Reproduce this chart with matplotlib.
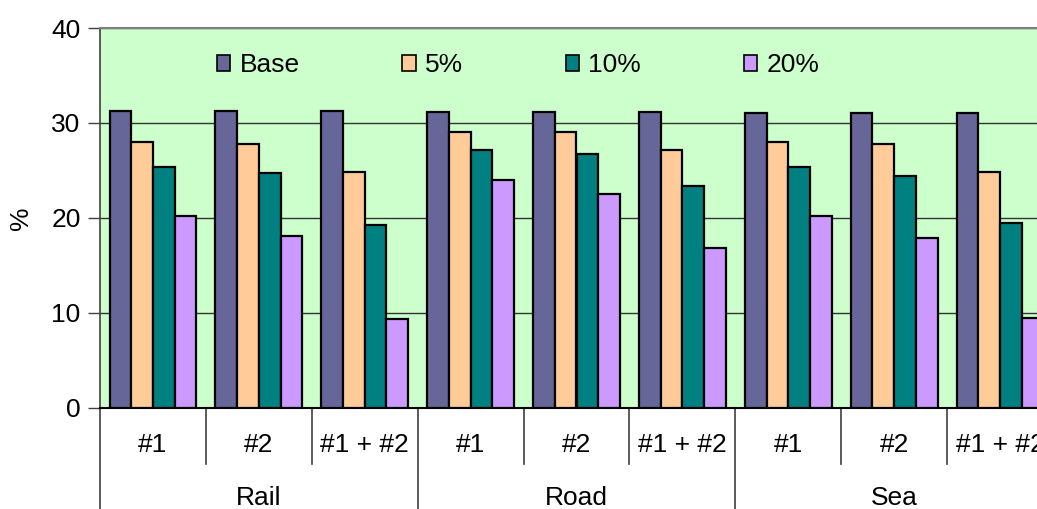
import matplotlib
matplotlib.use("Agg")
import matplotlib.pyplot as plt
import numpy as np

plt.rcParams['font.family'] = ['Liberation Sans', 'DejaVu Sans']

# Data
modes = ["Rail", "Road", "Sea"]
options = ["#1", "#2", "#1 + #2"]
series_names = ["Base", "5%", "10%", "20%"]

base = [31.2, 31.2, 31.2, 31.1, 31.1, 31.1, 31.0, 31.0, 31.0]
pct5 = [28.0, 27.8, 24.8, 29.0, 29.0, 27.1, 28.0, 27.8, 24.8]
pct10 = [25.3, 24.7, 19.2, 27.1, 26.7, 23.3, 25.3, 24.4, 19.4]
pct20 = [20.2, 18.1, 9.3, 24.0, 22.5, 16.8, 20.2, 17.9, 9.4]

colors = ["#666699", "#FFCC99", "#008080", "#CC99FF"]

FS = 19
W, H = 1037, 509
fig = plt.figure(figsize=(W / 100, H / 100), dpi=100)
left, right, bottom, top = 100, 1053, 407.5, 28
axw = right - left
axh = bottom - top
ax = fig.add_axes([left / W, (H - bottom) / H, axw / W, axh / H])
ax.set_facecolor("#CCFFCC")

n_groups = len(modes) * len(options)
x = np.arange(n_groups)
bw = 0.205
offsets = (np.arange(4) - 1.5) * bw
for vals, name, col, off in zip([base, pct5, pct10, pct20], series_names, colors, offsets):
    ax.bar(x + off, vals, bw, color=col, edgecolor="black", linewidth=1.6,
           label=name, zorder=3)

ax.set_xlim(-0.5, n_groups - 0.5)
ax.set_ylim(0, 40)
ax.set_yticks([0, 10, 20, 30, 40])
ax.yaxis.grid(True, color="#333333", linewidth=1.0, zorder=1)
ax.tick_params(axis="y", labelsize=FS, length=9, width=1, color="#404040",
               direction="out", pad=5)
ax.set_xticks([])
ax.set_ylabel("%", fontsize=FS, va="center")
ax.yaxis.set_label_coords(-79 / axw, 0.5)

ax.spines["right"].set_visible(False)
ax.spines["top"].set_color("#808080")
ax.spines["top"].set_linewidth(1.5)
ax.spines["left"].set_color("#404040")
ax.spines["left"].set_linewidth(1.2)
ax.spines["bottom"].set_color("black")
ax.spines["bottom"].set_linewidth(1.5)

# Two-level category axis below the plot
tr = ax.get_xaxis_transform()
px = 1.0 / axh  # one pixel in axes fraction
for i in range(n_groups + 1):
    xs = i - 0.5
    major = i % len(options) == 0
    y_end = -0.35 if major else -(464 - bottom) * px
    ax.plot([xs, xs], [0, y_end], transform=tr, color="#404040",
            linewidth=1.2, clip_on=False)
for i in range(n_groups):
    ax.text(i, -(445 - bottom) * px, options[i % len(options)], transform=tr,
            ha="center", va="center", fontsize=FS)
for j, m in enumerate(modes):
    cx = j * len(options) + (len(options) - 1) / 2
    ax.text(cx, -(498 - bottom) * px, m, transform=tr,
            ha="center", va="center", fontsize=FS)

leg = ax.legend(loc="center left", bbox_to_anchor=((217 - left) / axw, 1 - (65 - top) / axh),
                ncol=4, frameon=False, fontsize=FS, handlelength=0.5, handleheight=0.55,
                handletextpad=0.35, columnspacing=3.9, borderaxespad=0, borderpad=0)
for h in leg.legend_handles:
    h.set_linewidth(1.2)

fig.savefig("out.png", dpi=100)
